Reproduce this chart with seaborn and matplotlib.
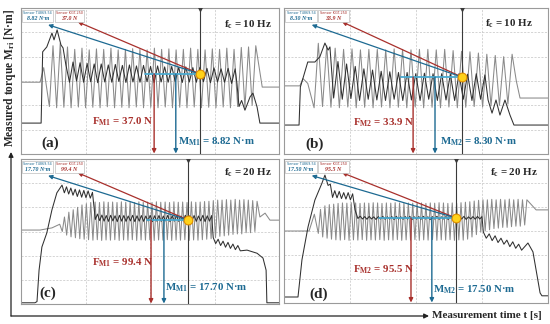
import numpy as np
import pandas as pd
import matplotlib.pyplot as plt
from matplotlib.patches import Rectangle
import seaborn as sns

sns.set_style("white")
plt.rcParams['font.family'] = ['Liberation Serif', 'DejaVu Serif']
plt.rcParams['mathtext.fontset'] = 'custom'
plt.rcParams['mathtext.rm'] = 'Liberation Serif'
plt.rcParams['mathtext.bf'] = 'Liberation Serif:bold'
plt.rcParams['mathtext.it'] = 'Liberation Serif:italic'

# traces: time in grid units (0-10), torque in grid divisions (0-6)
# each piece is either (times, values) or (t_start, t_end, first, second) for a zigzag

# (a) fc = 10 Hz
a_gray_head = ([0, 0.74, 0.88], [2.95, 2.95, 3.55])
a_gray_low = [1.95, 1.9, 1.92, 1.9, 1.93, 1.9, 1.92, 1.9, 1.94, 1.9,
              1.92, 1.9, 1.93, 1.9, 1.92, 1.9, 1.93, 1.9, 1.92, 1.9,
              1.93, 1.9, 1.92, 1.9, 1.93, 1.9, 1.95, 1.92, 2.0]
a_gray_high = [4.45, 4.55, 4.4, 4.3, 4.35, 4.28, 4.32, 4.3, 4.35, 4.28,
               4.3, 4.33, 4.3, 4.28, 4.35, 4.3, 4.32, 4.28, 4.3, 4.35,
               4.3, 4.28, 4.32, 4.3, 4.35, 4.3, 4.38, 4.4, 4.45]
a_gray_tail = ([9.35, 10], [2.75, 2.75])

a_dark_head = ([0, 0.78, 0.84, 1.0, 1.2, 1.28, 1.4, 1.47, 1.55, 1.63, 1.74],
               [1.27, 1.27, 4.2, 4.4, 4.97, 4.69, 5.1, 4.81, 4.48, 4.36, 3.66])
a_dark_low = [2.95, 3.0, 2.95, 2.97, 2.93, 2.96, 2.95, 2.98, 2.94, 2.96,
              2.95, 2.97, 2.93, 2.96, 2.95, 2.98, 2.94, 2.96, 2.95, 2.97,
              2.93, 2.96, 2.95, 2.9]
a_dark_high = [3.78, 3.75, 3.72, 3.7, 3.7, 3.66, 3.68, 3.64, 3.66, 3.62,
               3.64, 3.6, 3.62, 3.58, 3.6, 3.56, 3.58, 3.55, 3.56, 3.52,
               3.54, 3.5, 3.52, 3.5]
a_dark_tail = ([8.37, 8.45, 8.55, 8.68, 8.88, 8.99, 9.15, 9.26, 10],
               [2.9, 1.95, 2.2, 1.8, 2.35, 2.5, 1.93, 1.27, 1.27])

# (b) fc = 10 Hz
b_gray_head = ([0, 0.6, 0.72, 0.9], [2.8, 2.8, 3.1, 2.9])
b_gray_low = [1.9, 1.95, 1.92, 1.9, 1.93, 1.9, 1.92, 1.9, 1.93, 1.9,
              1.92, 1.9, 1.93, 1.9, 1.92, 1.9, 1.93, 1.9, 1.92, 1.95,
              1.93, 1.98, 2.0, 2.05]
b_gray_high = [4.55, 4.45, 4.35, 4.3, 4.32, 4.28, 4.3, 4.3, 4.28, 4.32,
               4.3, 4.28, 4.3, 4.3, 4.28, 4.3, 4.25, 4.22, 4.2, 4.15,
               4.1, 4.05, 4.0, 4.1]
b_gray_tail = ([8.8, 8.94, 10], [3.0, 2.3, 2.3])

b_dark_head = ([0, 0.57, 0.62, 0.9, 1.17, 1.36, 1.55, 1.67, 1.74],
               [1.19, 1.19, 2.75, 3.78, 3.78, 4.0, 4.56, 4.27, 4.4])
b_dark_low = [2.3, 2.25, 2.28, 2.2, 2.25, 2.22, 2.2, 2.25, 2.2, 2.22,
              2.2, 2.25, 2.2, 2.22, 2.2, 2.25, 2.2, 2.25]
b_dark_high = [3.8, 3.7, 3.6, 3.5, 3.45, 3.4, 3.38, 3.35, 3.35, 3.3,
               3.32, 3.3, 3.3, 3.28, 3.3, 3.28, 3.3, 3.25]
b_dark_tail = ([7.73, 7.88, 8.03, 8.18, 8.37, 8.56, 8.71, 10],
               [2.22, 1.68, 2.22, 1.6, 2.22, 1.6, 1.19, 1.19])

# (c) fc = 20 Hz
c_gray_head = ([0, 0.74, 1.2, 1.5], [3.06, 3.06, 3.15, 3.3])
c_gray_low = [3.0, 2.85, 2.78, 2.74, 2.7, 2.68, 2.66, 2.64, 2.66, 2.63,
              2.65, 2.64, 2.66, 2.63, 2.65, 2.64, 2.66, 2.63, 2.65, 2.64,
              2.66, 2.63, 2.65, 2.64, 2.66, 2.63, 2.65, 2.64, 2.66, 2.63,
              2.65, 2.64, 2.66, 2.68, 2.7, 2.75, 2.8, 2.82, 2.85, 2.88,
              2.9, 2.9, 2.95, 2.95, 3.0]
c_gray_high = [3.6, 3.8, 3.9, 4.0, 4.1, 4.15, 4.2, 4.22, 4.2, 4.23,
               4.21, 4.22, 4.2, 4.23, 4.21, 4.22, 4.2, 4.23, 4.21, 4.22,
               4.2, 4.23, 4.21, 4.22, 4.2, 4.23, 4.21, 4.22, 4.2, 4.23,
               4.21, 4.22, 4.24, 4.25, 4.28, 4.3, 4.3, 4.32, 4.3, 4.33,
               4.3, 4.32, 4.3, 4.28, 4.25]
c_gray_tail = ([9.26, 9.46, 9.65, 10], [3.6, 3.76, 3.47, 3.47])

c_dark_head = ([0, 0.54, 0.62, 0.7, 0.81, 1.0, 1.2, 1.39, 1.59],
               [0.05, 0.05, 0.1, 1.4, 2.36, 2.94, 3.9, 4.6, 4.92])
c_dark_saw1 = ([4.6, 4.55, 4.5, 4.45, 4.42, 4.4, 4.38],
               [4.85, 4.8, 4.75, 4.72, 4.7, 4.68, 4.62])
c_dark_low = [3.5, 3.45, 3.43, 3.42, 3.44, 3.41, 3.43, 3.42, 3.44, 3.41,
              3.43, 3.42, 3.44, 3.41, 3.43, 3.42, 3.44, 3.41, 3.43, 3.42,
              3.44, 3.41, 3.43, 3.42, 3.44, 3.41, 3.43]
c_dark_high = [3.72, 3.68, 3.66, 3.67, 3.65, 3.67, 3.66, 3.64, 3.67, 3.65,
               3.66, 3.64, 3.67, 3.65, 3.66, 3.64, 3.67, 3.65, 3.66, 3.64,
               3.67, 3.65, 3.66, 3.64, 3.67, 3.65, 3.66]
c_dark_saw2 = ([2.75, 2.68, 2.6, 2.55, 2.48, 2.42],
               [2.5, 2.42, 2.35, 2.3, 2.25, 2.2])
c_dark_tail = ([8.76, 9.15, 9.38, 9.5, 9.53, 10], [2.23, 2.1, 1.9, 1.4, 0.05, 0.05])

# (d) fc = 20 Hz
d_gray_head = ([0, 0.95, 1.15], [3.0, 3.0, 3.7])
d_gray_low = [2.9, 2.75, 2.7, 2.66, 2.63, 2.62, 2.64, 2.61, 2.63, 2.62,
              2.64, 2.61, 2.63, 2.62, 2.64, 2.61, 2.63, 2.62, 2.64, 2.61,
              2.63, 2.62, 2.64, 2.61, 2.63, 2.62, 2.64, 2.61, 2.63, 2.62,
              2.64, 2.61, 2.63, 2.62, 2.66, 2.75, 2.85, 2.95, 3.0, 3.05,
              3.1, 3.12, 3.15, 3.15, 3.18, 3.2, 3.2, 3.25]
d_gray_high = [3.9, 4.05, 4.1, 4.12, 4.15, 4.17, 4.16, 4.18, 4.17, 4.15,
               4.17, 4.16, 4.18, 4.17, 4.15, 4.17, 4.16, 4.18, 4.17, 4.15,
               4.17, 4.16, 4.18, 4.17, 4.15, 4.17, 4.16, 4.18, 4.17, 4.15,
               4.17, 4.16, 4.18, 4.2, 4.22, 4.25, 4.28, 4.3, 4.3, 4.32,
               4.3, 4.32, 4.3, 4.33, 4.3, 4.32, 4.3, 4.3]
d_gray_tail = ([9.45, 9.55, 10], [4.0, 3.88, 3.88])

d_dark_head = ([0, 0.53, 0.68, 0.91, 1.17, 1.44, 1.55],
               [0.25, 0.25, 1.8, 3.17, 4.29, 5.0, 5.33])
d_dark_saw1 = ([4.9, 4.4, 4.38, 4.35, 4.33, 4.3],
               [4.95, 4.68, 4.65, 4.6, 4.6, 4.55])
d_dark_low = [3.52, 3.5, 3.49, 3.5, 3.48, 3.5, 3.49, 3.5, 3.48, 3.5,
              3.49, 3.5, 3.48, 3.5, 3.49, 3.5, 3.48, 3.5, 3.49, 3.5,
              3.48, 3.5, 3.49, 3.5, 3.48, 3.5, 3.49, 3.5]
d_dark_high = [3.62, 3.6, 3.61, 3.59, 3.6, 3.61, 3.59, 3.6, 3.61, 3.59,
               3.6, 3.61, 3.59, 3.6, 3.61, 3.59, 3.6, 3.61, 3.59, 3.6,
               3.61, 3.59, 3.6, 3.61, 3.59, 3.6, 3.61, 3.6]
d_dark_saw2 = ([2.96, 2.88, 2.8, 2.7, 2.62, 2.55, 2.45],
               [2.7, 2.6, 2.52, 2.45, 2.35, 2.28, 2.2])
d_dark_tail = ([9.24, 9.43, 9.7, 9.77, 10], [2.5, 2.13, 0.42, 0.3, 0.3])

# measurement results
letters = ['(a)', '(b)', '(c)', '(d)']
fc_vals = ['10', '10', '20', '20']
meas_idx = ['M1', 'M2', 'M1', 'M2']
force_vals = ['37.0', '33.9', '99.4', '95.5']
torque_vals = ['8.82', '8.30', '17.70', '17.50']
cursor_t = [6.94, 6.74, 6.47, 6.52]
cursor_m = [3.29, 3.16, 3.48, 3.54]


def build(*pieces):
    ts, ms = [], []
    for p in pieces:
        if len(p) == 2:
            ts += list(p[0])
            ms += list(p[1])
        else:
            t0, t1, first, second = p
            v = [x for pair in zip(first, second) for x in pair]
            ts += list(np.linspace(t0, t1, len(v)))
            ms += v
    return pd.DataFrame({'t': ts, 'm': ms})


gray_traces = [
    build(a_gray_head, (1.1, 9.1, a_gray_low, a_gray_high), a_gray_tail),
    build(b_gray_head, (1.14, 8.64, b_gray_low, b_gray_high), b_gray_tail),
    build(c_gray_head, (1.6, 9.15, c_gray_low, c_gray_high), c_gray_tail),
    build(d_gray_head, (1.3, 9.2, d_gray_low, d_gray_high), d_gray_tail),
]
dark_traces = [
    build(a_dark_head, (1.88, 8.3, a_dark_low, a_dark_high), a_dark_tail),
    build(b_dark_head, (1.88, 7.61, b_dark_low, b_dark_high), b_dark_tail),
    build(c_dark_head, (1.68, 2.77, *c_dark_saw1), (2.88, 7.39, c_dark_low, c_dark_high),
          (7.45, 8.5, *c_dark_saw2), c_dark_tail),
    build(d_dark_head, (1.67, 2.6, *d_dark_saw1), ([2.69], [3.88]),
          (2.8, 7.5, d_dark_low, d_dark_high), (7.55, 9.0, *d_dark_saw2), d_dark_tail),
]

# layout (pixels of the 550x324 canvas)
rects = [(21, 8, 279, 154), (284, 8, 548, 154), (21, 159, 279, 304), (284, 159, 548, 303)]
teal_start = [4.8, 4.43, 4.88, 3.6]
f_arrow_t = [5.16, 4.89, 5.04, 4.81]
m_arrow_t = [6.0, 5.72, 5.54, 5.6]
letter_pos = [(1.12, 0.45), (1.14, 0.4), (1.05, 0.45), (1.33, 0.35)]
f_text_pos = [(2.75, 1.32), (2.61, 1.27), (2.75, 1.7), (2.61, 1.38)]
m_text_pos = [(6.08, 0.49), (5.9, 0.49), (5.58, 0.66), (5.64, 0.54)]
fc_pos = [(9.73, 5.3), (9.43, 5.34), (9.73, 5.42), (9.62, 5.42)]

RED = '#a8302c'
BLUE = '#1d6a92'
TEAL = '#4aaad0'

fig = plt.figure(figsize=(5.5, 3.24), dpi=100)

# overall axis arrows and labels
ov = fig.add_axes([0, 0, 1, 1])
ov.set_xlim(0, 550)
ov.set_ylim(324, 0)
ov.axis('off')
ov.annotate('', xy=(11, 152), xytext=(11, 316),
            arrowprops=dict(arrowstyle='-|>', color='#222222', lw=0.9, mutation_scale=7,
                            shrinkA=0, shrinkB=0))
ov.annotate('', xy=(429, 316), xytext=(11, 316),
            arrowprops=dict(arrowstyle='-|>', color='#222222', lw=0.9, mutation_scale=7,
                            shrinkA=0, shrinkB=0))
ov.text(10, 78, 'Measured torque M$_{\\mathbf{ri}}$ [N·m]', rotation=90, ha='center',
        va='center', fontsize=8.3, fontweight='bold')
ov.text(432, 315, 'Measurement time t [s]', ha='left', va='center', fontsize=8,
        fontweight='bold')

for i in range(4):
    l, t, r, b = rects[i]
    ax = fig.add_axes([l / 550, 1 - b / 324, (r - l) / 550, (b - t) / 324])
    ax.set_xlim(0, 10)
    ax.set_ylim(0, 6)
    ax.set_xticks([0, 2.5, 5, 7.5, 10])
    ax.set_yticks(range(7))
    ax.grid(True, color='#c4c4c4', lw=0.5, ls=(0, (3, 2)))
    ax.tick_params(length=0, labelbottom=False, labelleft=False)
    for s in ax.spines.values():
        s.set_color('#9a9a9a')
        s.set_linewidth(0.8)

    sns.lineplot(data=gray_traces[i], x='t', y='m', sort=False, estimator=None,
                 color='#8a8a8a', lw=0.75, ax=ax)
    sns.lineplot(data=dark_traces[i], x='t', y='m', sort=False, estimator=None,
                 color='#303030', lw=0.75, ax=ax)
    ax.set_xlabel('')
    ax.set_ylabel('')

    ct, cm = cursor_t[i], cursor_m[i]
    ax.axvline(ct, color='#3a3a3a', lw=0.8, zorder=3)
    ax.plot([ct], [5.95], marker='v', color='#3a3a3a', ms=2.5, zorder=3)
    ax.plot([teal_start[i], ct], [cm, cm], color=TEAL, lw=1.3, zorder=4)

    # vertical arrows to the axis
    ax.annotate('', xy=(f_arrow_t[i], 0.02), xytext=(f_arrow_t[i], cm),
                arrowprops=dict(arrowstyle='-|>', color=RED, lw=1.0, mutation_scale=6,
                                shrinkA=0, shrinkB=0), zorder=5)
    ax.annotate('', xy=(m_arrow_t[i], 0.02), xytext=(m_arrow_t[i], cm),
                arrowprops=dict(arrowstyle='-|>', color=BLUE, lw=1.0, mutation_scale=6,
                                shrinkA=0, shrinkB=0), zorder=5)
    # diagonal arrows to the sensor boxes
    ax.annotate('', xy=(0.22, 0.905), xycoords='axes fraction', xytext=(ct, cm),
                textcoords='data',
                arrowprops=dict(arrowstyle='-|>', color=RED, lw=0.9, mutation_scale=6,
                                shrinkA=0, shrinkB=0), zorder=5)
    ax.annotate('', xy=(0.105, 0.885), xycoords='axes fraction', xytext=(ct, cm),
                textcoords='data',
                arrowprops=dict(arrowstyle='-|>', color=BLUE, lw=0.9, mutation_scale=6,
                                shrinkA=0, shrinkB=0), zorder=5)
    ax.scatter([ct], [cm], s=40, color='#ffd21a', edgecolor='#e08e00', lw=0.8, zorder=6)

    # sensor boxes
    for x0, w, name, val, col in [(0.005, 0.12, 'Sensor T4869-54', torque_vals[i] + ' N·m', BLUE),
                                   (0.13, 0.115, 'Sensor KGT-250', force_vals[i] + ' N', RED)]:
        ax.add_patch(Rectangle((x0, 0.905), w, 0.08, transform=ax.transAxes,
                               facecolor='white', edgecolor='#bdbdbd', lw=0.5, zorder=6))
        ax.text(x0 + w / 2, 0.968, name, transform=ax.transAxes, ha='center', va='center',
                fontsize=2.4, color=col, family='DejaVu Sans', zorder=7)
        ax.text(x0 + w / 2, 0.93, val, transform=ax.transAxes, ha='center', va='center',
                fontsize=4.2, color=col, fontweight='bold', style='italic', zorder=7)

    lx, ly = letter_pos[i]
    ax.text(lx, ly, letters[i], ha='center', va='center', fontsize=11, fontweight='bold')
    fx, fy = f_text_pos[i]
    ax.text(fx, fy, '$\\mathbf{F_{' + meas_idx[i] + '}}$ = ' + force_vals[i] + ' N',
            ha='left', va='center', fontsize=7.8, fontweight='bold', color=RED, zorder=7)
    mx, my = m_text_pos[i]
    ax.text(mx, my, '$\\mathbf{M_{' + meas_idx[i] + '}}$ = ' + torque_vals[i] + ' N·m',
            ha='left', va='center', fontsize=7.8, fontweight='bold', color=BLUE, zorder=7)
    qx, qy = fc_pos[i]
    ax.text(qx, qy, '$\\mathbf{f_{c}}$ = ' + fc_vals[i] + ' Hz', ha='right', va='center',
            fontsize=7.8, fontweight='bold', zorder=7)

fig.savefig('out.png', dpi=100)
